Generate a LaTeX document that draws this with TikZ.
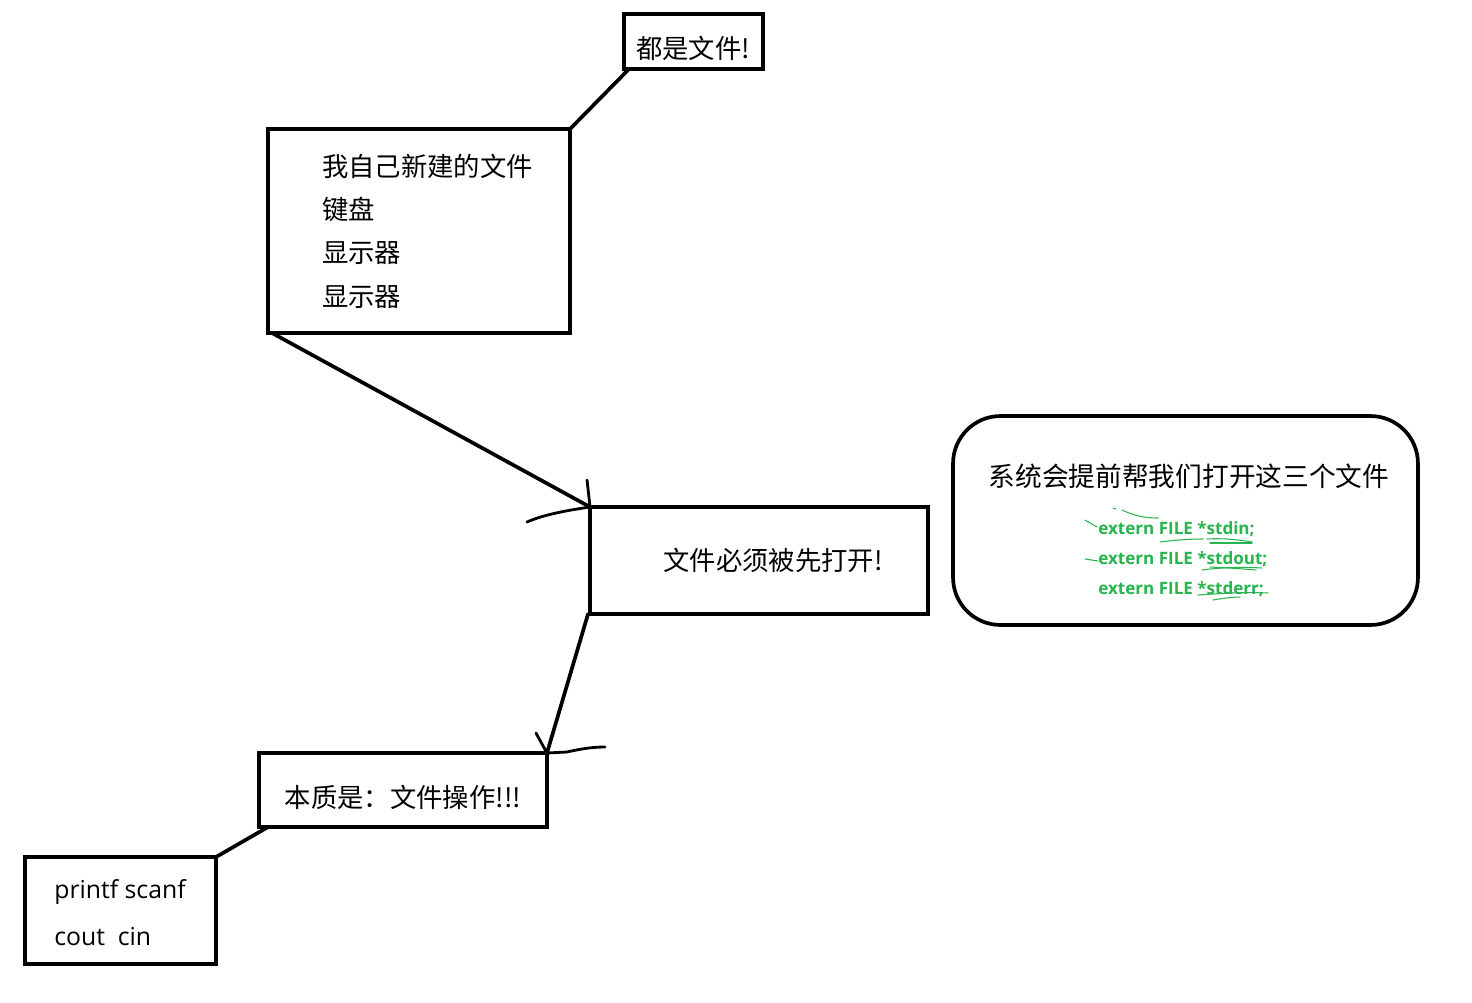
\documentclass[tikz,border=0pt]{standalone}
\usepackage{fontspec}
\usetikzlibrary{calc}
\newfontfamily\cjk{Noto Sans CJK SC}
\newfontfamily\lat{Open Sans}
\definecolor{pgreen}{RGB}{40,180,78}
\tikzset{
  box/.style={draw=black, line width=2.1pt, rectangle, inner sep=0pt, outer sep=0pt},
  conn/.style={draw=black, line width=2.1pt, line cap=round},
  tip/.style={draw=black, line width=1.6pt, line cap=round},
  txt/.style={inner sep=0pt, outer sep=0pt, font=\cjk\fontsize{15}{18}\selectfont},
  gtxt/.style={inner sep=0pt, anchor=west, text=pgreen, font=\lat\bfseries\fontsize{9.7}{11}\selectfont},
  scrib/.style={draw=pgreen, line width=0.6pt, line cap=round},
}
\begin{document}
\begin{tikzpicture}[x=0.02cm,y=-0.02cm]
\useasboundingbox (0,0) rectangle (1472,1002);
\fill[white] (0,0) rectangle (1472,1002);

% boxes
\node[box, minimum width=2.78cm, minimum height=1.1cm] (top) at (693.5,41.5) {};
\node[txt, anchor=west] (toptxt) at (636,48) {都是文件!};

\node[box, minimum width=6.04cm, minimum height=4.08cm] (big) at (419,231) {};
\node[txt, anchor=west, align=left, font=\cjk\fontsize{15}{24.7}\selectfont] (bigtxt) at (322,231) {我自己新建的文件\\键盘\\显示器\\显示器};

\node[box, minimum width=6.76cm, minimum height=2.14cm] (mid) at (759,560.5) {};
\node[txt] (midtxt) at (773,560) {文件必须被先打开!};

\node[box, rounded corners=0.95cm, minimum width=9.3cm, minimum height=4.18cm] (sys) at (1185.5,520.5) {};
\node[txt, font=\cjk\fontsize{15.2}{19}\selectfont] (systxt) at (1189,476) {系统会提前帮我们打开这三个文件};
\node[gtxt] (g1) at (1098,529) {extern FILE *stdin;};
\node[gtxt] (g2) at (1098,559) {extern FILE *stdout;};
\node[gtxt] (g3) at (1098,589) {extern FILE *stderr;};

\node[box, minimum width=5.76cm, minimum height=1.48cm] (bot) at (403,790) {};
\node[txt] (bottxt) at (403,797) {本质是：文件操作!!!};

\node[box, minimum width=3.82cm, minimum height=2.14cm] (prn) at (120.5,910.5) {};
\node[inner sep=0pt, anchor=west, align=left, font=\lat\fontsize{14.1}{26.6}\selectfont] (prntxt) at (54,912.5) {printf scanf\\cout~~cin};

% connectors
\draw[conn] (big.north east) -- ($(top.south west)+(5,0)$);
\draw[conn] ($(big.south west)+(4,0)$) -- (mid.north west);
\draw[tip] (mid.north west) -- ++(-3,-27);
\draw[tip] (mid.north west) .. controls (570,510) and (545,514) .. (527,522);
\draw[conn] ($(mid.south west)+(-2,0)$) -- (bot.north east);
\draw[tip] (bot.north east) -- ++(-11,-20);
\draw[tip] (bot.north east) -- (567,752) .. controls (580,749) and (592,747) .. (605,747);
\draw[conn] ($(bot.south west)+(9,0)$) -- (prn.north east);

% green scribbles
\draw[scrib] (1085,520) -- (1097,527);
\draw[scrib] (1113,508) -- (1116,509);
\draw[scrib] (1122,510) .. controls (1135,516) and (1145,518) .. (1158,518);
\draw[scrib] (1160,542) .. controls (1175,540) and (1190,539) .. (1203,539);
\draw[scrib] (1207,539) .. controls (1225,538) and (1240,540) .. (1252,542);
\draw[scrib] (1210,543) -- (1252,543);
\draw[scrib] (1085,559) -- (1098,561);
\draw[scrib] (1202,570) .. controls (1225,567) and (1245,567) .. (1262,568);
\draw[scrib] (1210,567) .. controls (1230,568) and (1245,569) .. (1256,570);
\draw[scrib] (1198,595) .. controls (1225,593) and (1250,592) .. (1268,593);
\draw[scrib] (1213,600) .. controls (1225,598) and (1233,597) .. (1240,597);
\end{tikzpicture}
\end{document}
